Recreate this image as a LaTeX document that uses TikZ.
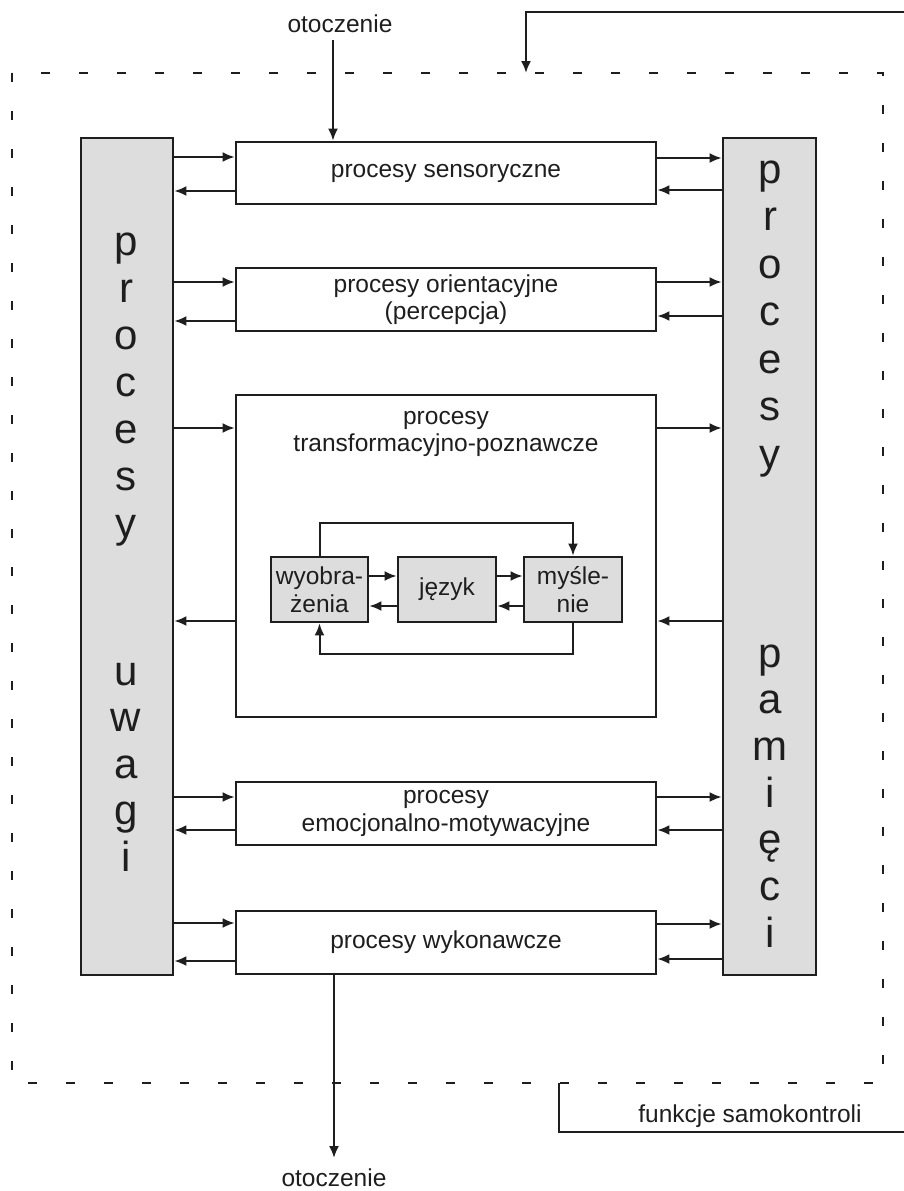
\documentclass[tikz,border=0pt]{standalone}
\usepackage{fontspec}
\setmainfont{Liberation Sans}
\usetikzlibrary{arrows.meta}
\definecolor{boxgrey}{RGB}{221,221,221}
\definecolor{ink}{RGB}{30,30,30}
\begin{document}
\begin{tikzpicture}[x=1pt,y=-1pt,
  procbox/.style={draw=ink, line width=2.8pt, fill=white, inner sep=0pt, align=center,
    text=ink, font=\fontsize{24.5}{27.5}\selectfont},
  greybox/.style={draw=ink, line width=2.8pt, fill=boxgrey, inner sep=0pt, align=center,
    text=ink, font=\fontsize{24.5}{27.5}\selectfont},
  arr/.style={draw=ink, line width=2pt, -{Latex[length=12pt,width=10pt]}},
  plainline/.style={draw=ink, line width=2pt},
  txt/.style={text=ink, font=\fontsize{24.5}{27.5}\selectfont, align=center, inner sep=0pt},
  big/.style={text=ink, font=\fontsize{42}{47}\selectfont, inner sep=0pt, anchor=base},
  frame/.style={draw=ink, line width=1.7pt, dash pattern=on 9pt off 29pt},
]
\useasboundingbox (0,0) rectangle (904,1191);

% dashed frame
\draw[frame] (12,73) rectangle (883,1083);

% grey columns
\node[greybox, minimum width=92, minimum height=837] (uwagi) at (127,556.5) {};
\node[greybox, minimum width=93, minimum height=837] (pamieci) at (769.5,556.5) {};

\foreach \l [count=\i from 0] in {p,r,o,c,e,s,y}
  \node[big] (lu\i) at (126,255+47*\i) {\l};
\foreach \l [count=\i from 0] in {u,w,a,g,i}
  \node[big] (lw\i) at (126,685+46.5*\i) {\l};
\foreach \l [count=\i from 0] in {p,r,o,c,e,s,y}
  \node[big] (rp\i) at (770,183+47.5*\i) {\l};
\foreach \l [count=\i from 0] in {p,a,m,i,ę,c,i}
  \node[big] (rm\i) at (770,667+46.7*\i) {\l};

% process boxes
\node[procbox, minimum width=420, minimum height=62] (sens) at (446,173) {procesy sensoryczne};
\node[procbox, minimum width=420, minimum height=63] (orient) at (446,299.5) {procesy orientacyjne\\(percepcja)};
\node[procbox, minimum width=420, minimum height=322] (transf) at (446,556) {};
\node[txt] (transfT) at (446,434) {procesy\\transformacyjno-poznawcze};
\node[procbox, minimum width=420, minimum height=63] (emoc) at (446,813.5) {procesy\\emocjonalno-motywacyjne};
\node[procbox, minimum width=420, minimum height=63] (wyk) at (446,942.5) {procesy wykonawcze};

% inner boxes
\node[greybox, minimum width=97, minimum height=65] (wyob) at (319.5,589.5) {wyobra-\\żenia};
\node[greybox, minimum width=98, minimum height=65] (jez) at (447,589.5) {język};
\node[greybox, minimum width=98, minimum height=65] (mysl) at (573,589.5) {myśle-\\nie};

% arrows left column <-> boxes
\draw[arr] (uwagi.east |- 0,157) -- (sens.west |- 0,157);
\draw[arr] (sens.west |- 0,191) -- (uwagi.east |- 0,191);
\draw[arr] (uwagi.east |- 0,282) -- (orient.west |- 0,282);
\draw[arr] (orient.west |- 0,321) -- (uwagi.east |- 0,321);
\draw[arr] (uwagi.east |- 0,428) -- (transf.west |- 0,428);
\draw[arr] (transf.west |- 0,621) -- (uwagi.east |- 0,621);
\draw[arr] (uwagi.east |- 0,797) -- (emoc.west |- 0,797);
\draw[arr] (emoc.west |- 0,830) -- (uwagi.east |- 0,830);
\draw[arr] (uwagi.east |- 0,923) -- (wyk.west |- 0,923);
\draw[arr] (wyk.west |- 0,961) -- (uwagi.east |- 0,961);

% arrows boxes <-> right column
\draw[arr] (sens.east |- 0,158) -- (pamieci.west |- 0,158);
\draw[arr] (pamieci.west |- 0,190) -- (sens.east |- 0,190);
\draw[arr] (orient.east |- 0,282) -- (pamieci.west |- 0,282);
\draw[arr] (pamieci.west |- 0,316) -- (orient.east |- 0,316);
\draw[arr] (transf.east |- 0,428) -- (pamieci.west |- 0,428);
\draw[arr] (pamieci.west |- 0,621) -- (transf.east |- 0,621);
\draw[arr] (emoc.east |- 0,797) -- (pamieci.west |- 0,797);
\draw[arr] (pamieci.west |- 0,830) -- (emoc.east |- 0,830);
\draw[arr] (wyk.east |- 0,924) -- (pamieci.west |- 0,924);
\draw[arr] (pamieci.west |- 0,959) -- (wyk.east |- 0,959);

% inner arrows
\draw[arr] (wyob.east |- 0,576) -- (jez.west |- 0,576);
\draw[arr] (jez.west |- 0,606) -- (wyob.east |- 0,606);
\draw[arr] (jez.east |- 0,576) -- (mysl.west |- 0,576);
\draw[arr] (mysl.west |- 0,606) -- (jez.east |- 0,606);
\draw[arr] (wyob.north) -- ++(0,-33) -| (mysl.north);
\draw[arr] (mysl.south) -- ++(0,31) -| (wyob.south);

% environment
\node[txt, anchor=base] (otIn) at (340,32) {otoczenie};
\coordinate (inTop) at (333,40);
\draw[arr] (inTop) -- (inTop |- sens.north);
\coordinate (outEnd) at (334,1158);
\draw[arr] (outEnd |- wyk.south) -- (outEnd);
\node[txt, anchor=base] (otOut) at (334,1186) {otoczenie};

% self-control feedback
\coordinate (fbA) at (559,1083);
\coordinate (fbB) at (559,1132);
\coordinate (fbC) at (904,1132);
\coordinate (fbD) at (904,12);
\coordinate (fbE) at (526,12);
\coordinate (fbF) at (526,73);
\draw[plainline] (fbA) -- (fbB) -- (fbC);
\draw[arr] (fbD) -- (fbE) -- (fbF);
\node[txt, anchor=base] (fbT) at (750,1122) {funkcje samokontroli};
\end{tikzpicture}
\end{document}
